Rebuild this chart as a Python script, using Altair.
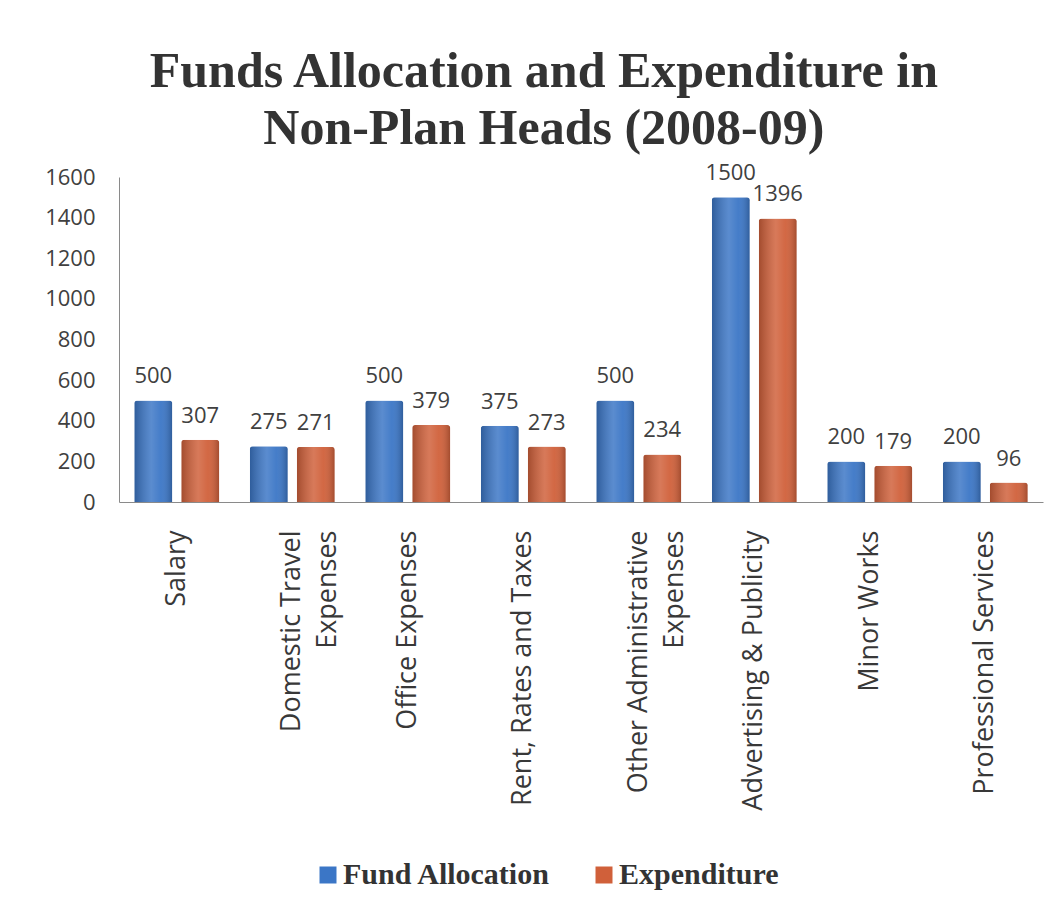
import altair as alt
import pandas as pd

categories = ["Salary", "Domestic Travel|Expenses", "Office Expenses", "Rent, Rates and Taxes",
              "Other Administrative|Expenses", "Advertising & Publicity", "Minor Works",
              "Professional Services"]
series = ["Fund Allocation", "Expenditure"]
fund_allocation = [500, 275, 500, 375, 500, 1500, 200, 200]
expenditure = [307, 271, 379, 273, 234, 1396, 179, 96]
y_ticks = [0, 200, 400, 600, 800, 1000, 1200, 1400, 1600]
colors = ["#3b76c6", "#d0603a"]

rows = []
for c, f, e in zip(categories, fund_allocation, expenditure):
    rows.append({"Head": c, "Series": series[0], "Value": f})
    rows.append({"Head": c, "Series": series[1], "Value": e})
df = pd.DataFrame(rows)

SANS = "Open Sans"
SERIF = "Liberation Serif"

x = alt.X("Head:N", sort=categories,
          scale=alt.Scale(paddingInner=0.264, paddingOuter=0.132),
          axis=alt.Axis(title=None, labelAngle=270, labelAlign="right", labelBaseline="middle",
                        labelExpr="split(datum.label, '|')", labelFontSize=27, labelFont=SANS,
                        labelColor="#383838", labelPadding=28, labelLineHeight=36,
                        ticks=False, domainColor="#8a8a8a", labelLimit=0))
xo = alt.XOffset("Series:N", sort=series, scale=alt.Scale(paddingInner=0.19, paddingOuter=0))
y = alt.Y("Value:Q", scale=alt.Scale(domain=[0, 1600], nice=False),
          axis=alt.Axis(title=None, values=y_ticks, format="d", grid=False, ticks=False,
                        labelFontSize=22, labelFont=SANS, labelColor="#404040",
                        labelPadding=24, domainColor="#8a8a8a"))

base = alt.Chart(df)

bars = base.mark_bar(cornerRadiusTopLeft=3, cornerRadiusTopRight=3).encode(
    x=x, xOffset=xo, y=y,
    color=alt.Color("Series:N", sort=series,
                    scale=alt.Scale(domain=series, range=colors),
                    legend=alt.Legend(orient="none", legendX=194, legendY=683,
                                      direction="horizontal", title=None,
                                      symbolType="square", symbolSize=289,
                                      symbolStrokeWidth=0, labelLimit=0,
                                      labelFont=SERIF, labelFontWeight="bold",
                                      labelFontSize=30, labelColor="#333333",
                                      columnPadding=38, labelOffset=0)),
)

shade = base.mark_bar(
    cornerRadiusTopLeft=3, cornerRadiusTopRight=3,
    fill=alt.Gradient(gradient="linear", x1=0, x2=1, y1=0, y2=0,
                      stops=[alt.GradientStop(color="rgba(0,0,0,0.22)", offset=0),
                             alt.GradientStop(color="rgba(255,255,255,0.16)", offset=0.45),
                             alt.GradientStop(color="rgba(255,255,255,0.05)", offset=0.7),
                             alt.GradientStop(color="rgba(0,0,0,0.22)", offset=1)])
).encode(x=x, xOffset=xo, y=y)

labels = base.mark_text(baseline="middle", dy=-24, fontSize=22, font=SANS, color="#404040").encode(
    x=x, xOffset=xo, y=y, text=alt.Text("Value:Q")
)

chart = alt.layer(bars, shade, labels).properties(
    width=924, height=325,
    background="white",
    title=alt.TitleParams(text=["Funds Allocation and Expenditure in", "Non-Plan Heads (2008-09)"],
                          font=SERIF, fontSize=50, fontWeight="bold", color="#333333",
                          lineHeight=57, anchor="middle", frame="bounds", offset=8),
    autosize=alt.AutoSizeParams(type="none"),
    padding={"left": 111, "top": 169, "right": 11, "bottom": 402},
).configure_view(strokeWidth=0, stroke="transparent")

chart.save("out.html", embed_options={"renderer": "svg", "actions": False})
